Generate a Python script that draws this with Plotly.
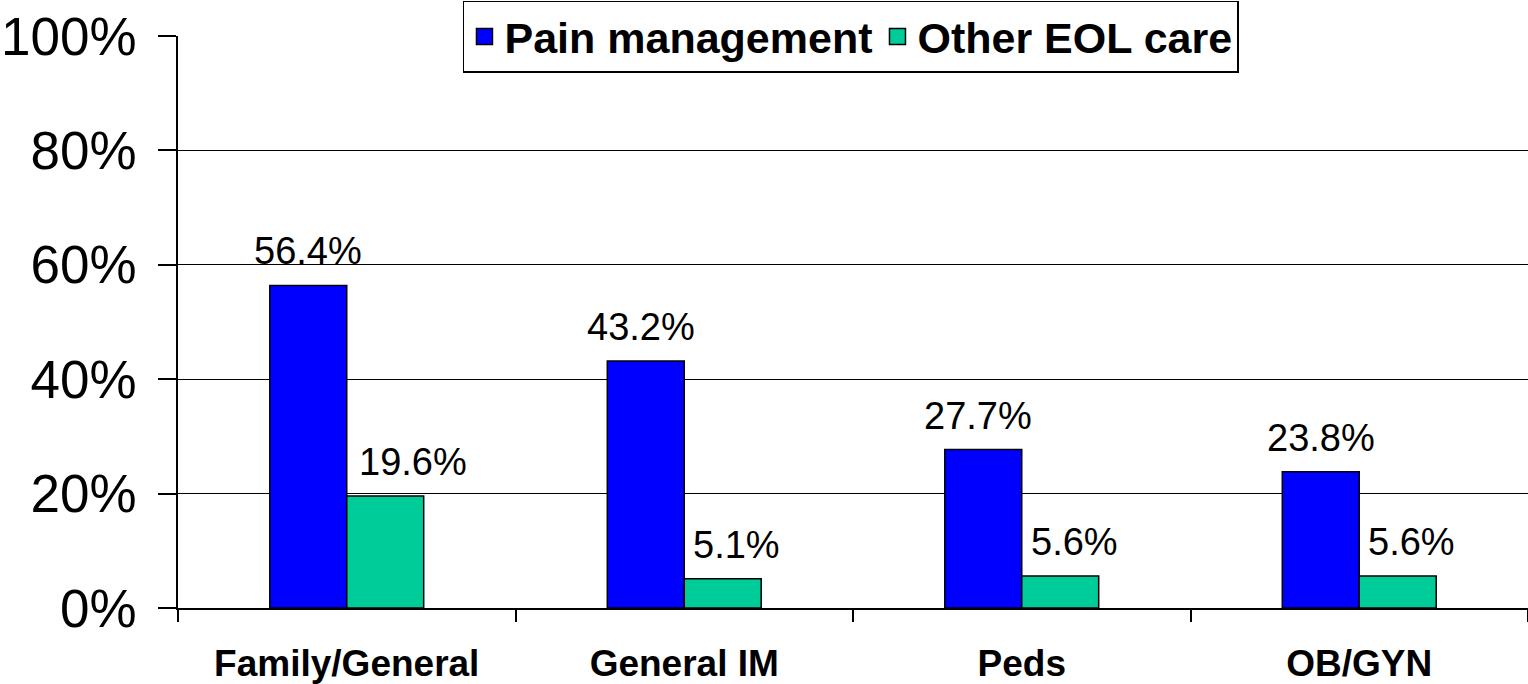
import plotly.graph_objects as go

categories = ["Family/General", "General IM", "Peds", "OB/GYN"]
pain_management = [56.4, 43.2, 27.7, 23.8]
other_eol_care = [19.6, 5.1, 5.6, 5.6]
series_names = ["Pain management", "Other EOL care"]
y_ticks = [0, 20, 40, 60, 80, 100]
y_tick_labels = ["0%", "20%", "40%", "60%", "80%", "100%"]

# horizontal nudges (px) of the value labels, as placed in the original
pain_label_shift = [0, -5, -5, 0]
other_label_shift = [28, 14, 14, 14]

BLUE = "#0000FF"
GREEN = "#00CC99"
FONT = "Liberation Sans, Arial, sans-serif"

fig = go.Figure()
for name, vals, col in ((series_names[0], pain_management, BLUE),
                        (series_names[1], other_eol_care, GREEN)):
    fig.add_trace(go.Bar(
        name=name, x=categories, y=vals, showlegend=False,
        marker=dict(color=col, line=dict(color="black", width=1.5)),
    ))
    # legend entry with a larger square swatch
    fig.add_trace(go.Scatter(
        name=name, x=[None], y=[None], mode="markers",
        marker=dict(symbol="square", size=22, color=col,
                    line=dict(color="black", width=1.5)),
    ))

bargap = 0.544
bar_w = (1 - bargap) / 2
annotations = []
for i, cat in enumerate(categories):
    for vals, off, shifts in ((pain_management, -bar_w / 2, pain_label_shift),
                              (other_eol_care, bar_w / 2, other_label_shift)):
        v = vals[i]
        annotations.append(dict(
            x=i + off, y=v, xref="x", yref="y", text=f"{v:.1f}%",
            showarrow=False, yanchor="bottom", yshift=11, xshift=shifts[i],
            font=dict(family=FONT, size=38, color="black"),
        ))

fig.update_layout(
    width=1528, height=684,
    margin=dict(l=178, r=0, t=36, b=76, autoexpand=False),
    paper_bgcolor="white", plot_bgcolor="white",
    barmode="group", bargap=bargap, bargroupgap=0,
    font=dict(family=FONT, color="black"),
    annotations=annotations,
    legend=dict(
        orientation="h", x=0.4985, xanchor="center", y=1.062, yanchor="top",
        bgcolor="white", bordercolor="black", borderwidth=1.5,
        font=dict(family=FONT, size=43, color="black", weight="bold"),
        itemwidth=30, tracegroupgap=0,
    ),
    xaxis=dict(
        type="category", tickson="boundaries", ticks="outside", ticklen=12,
        tickwidth=1.5, tickcolor="black", automargin=False,
        showline=True, linecolor="black", linewidth=1.5,
        showgrid=False, ticklabelstandoff=22,
        tickfont=dict(family=FONT, size=37, color="black", weight="bold"),
        range=[-0.5, 3.5],
    ),
    yaxis=dict(
        range=[0, 100], tickvals=y_ticks, ticktext=y_tick_labels,
        ticks="outside", ticklen=18, tickwidth=1.5, tickcolor="black",
        showline=True, linecolor="black", linewidth=1.5, automargin=False,
        showgrid=True, gridcolor="black", gridwidth=1.2,
        zeroline=False, ticklabelstandoff=11,
        tickfont=dict(family=FONT, size=53, color="black"),
    ),
)

fig.write_html(
    "out.html",
    config={"displayModeBar": False},
    post_script="document.body.style.margin='0';document.body.style.overflow='hidden';",
)
